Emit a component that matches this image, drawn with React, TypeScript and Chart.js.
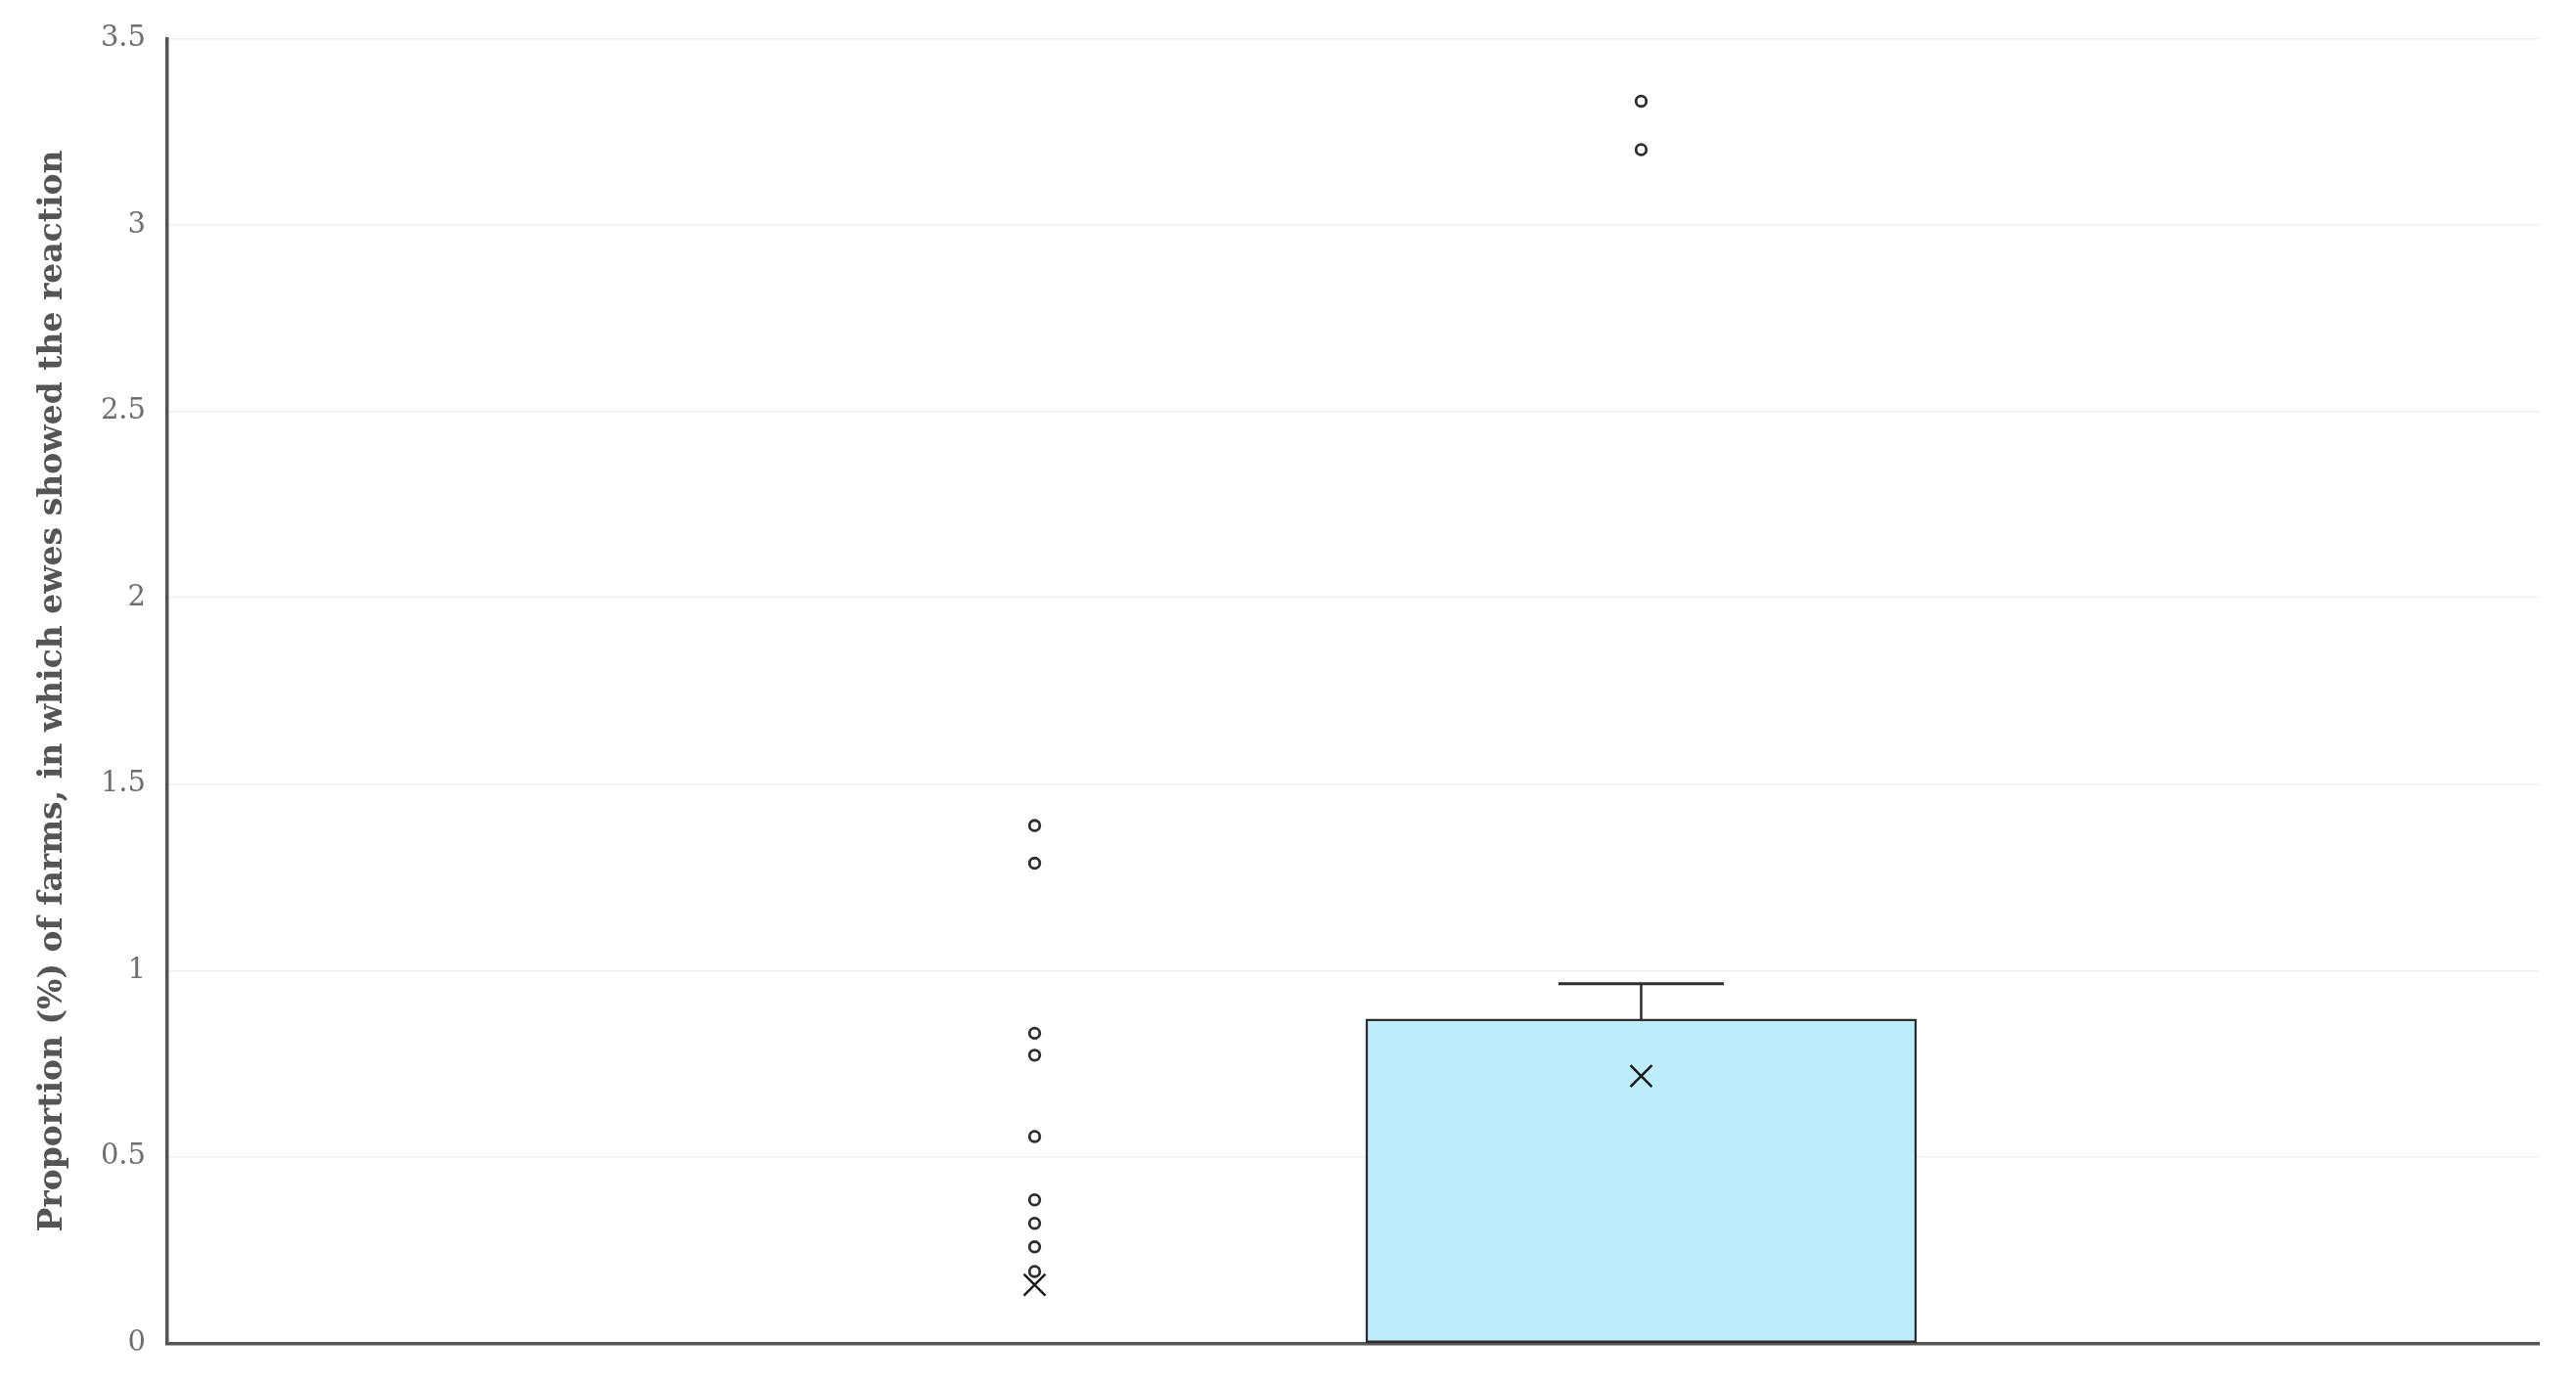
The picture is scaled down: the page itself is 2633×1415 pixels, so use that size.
import React, { useEffect, useRef } from "react";
import { Chart, registerables } from "chart.js";

Chart.register(...registerables);

// ---- data ----
const categories = ["Group 1", "Group 2"];
const q1Values = [0, 0];
const q3Values = [0, 0.87];
const whiskerMax = [0, 0.965];
const meanValues = [0.157, 0.717];
const outliersGroup1 = [1.389, 1.288, 0.832, 0.773, 0.555, 0.385, 0.322, 0.259, 0.193];
const outliersGroup2 = [3.332, 3.202];
const outlierLists = [outliersGroup1, outliersGroup2];
const yTickLabels = ["0", "0.5", "1", "1.5", "2", "2.5", "3", "3.5"];
const yTitle = "Proportion (%) of farms, in which ewes showed the reaction";

const DARK = "#2e2e2e";

export default function App() {
  const canvasRef = useRef<HTMLCanvasElement | null>(null);

  useEffect(() => {
    const prevMargin = document.body.style.margin;
    document.body.style.margin = "0";
    const canvas = canvasRef.current;
    if (!canvas) return;

    const xs = categories.map((_, i) => i + 1);

    const boxData = xs.map((x, i) => ({ x, y: [q1Values[i], q3Values[i]] }));
    const withWhisker = xs.map((_, i) => i).filter((i) => whiskerMax[i] > q3Values[i]);
    const stemDatasets = withWhisker.map((i) => ({
      type: "line" as const,
      data: [
        { x: xs[i], y: q3Values[i] },
        { x: xs[i], y: whiskerMax[i] },
      ],
      borderColor: DARK,
      borderWidth: 2.5,
      pointRadius: 0,
      order: 4,
    }));
    const capData = withWhisker.map((i) => ({ x: xs[i], y: whiskerMax[i] }));
    const meanData = xs.map((x, i) => ({ x, y: meanValues[i] }));
    const outlierData: { x: number; y: number }[] = [];
    outlierLists.forEach((list, i) => list.forEach((v) => outlierData.push({ x: xs[i], y: v })));

    const chart = new Chart(canvas, {
      type: "bar",
      data: {
        datasets: [
          {
            type: "bar",
            data: boxData as any,
            backgroundColor: "#bdedfb",
            borderColor: DARK,
            borderWidth: 2.5,
            borderSkipped: false,
            barThickness: 563,
            order: 5,
          } as any,
          ...stemDatasets,
          {
            type: "line",
            data: capData,
            showLine: false,
            pointStyle: "line",
            pointRadius: 84.5,
            pointBorderWidth: 3,
            pointBorderColor: DARK,
            borderColor: DARK,
            order: 3,
          } as any,
          {
            type: "line",
            data: meanData,
            showLine: false,
            pointStyle: "crossRot",
            pointRadius: 15.5,
            pointBorderWidth: 2.5,
            pointBorderColor: "#1a1a1a",
            borderColor: "#1a1a1a",
            order: 2,
          } as any,
          {
            type: "line",
            data: outlierData,
            showLine: false,
            pointStyle: "circle",
            pointRadius: 5.3,
            pointBorderWidth: 2.8,
            pointBorderColor: DARK,
            pointBackgroundColor: "#ffffff",
            borderColor: DARK,
            order: 1,
          } as any,
        ],
      },
      options: {
        animation: false,
        responsive: true,
        maintainAspectRatio: false,
        layout: { autoPadding: false, padding: { left: 0, top: 35, right: 38, bottom: 41.5 } },
        plugins: { legend: { display: false }, tooltip: { enabled: false }, title: { display: false } },
        scales: {
          x: {
            type: "linear",
            offset: false,
            min: -0.43,
            max: 3.48,
            grid: { display: false, drawTicks: false, offset: false },
            ticks: { display: false },
            border: { display: true, color: "#555555", width: 3.5 },
            afterFit: (s: any) => {
              s.height = 0;
            },
          },
          y: {
            type: "linear",
            min: 0,
            max: 3.5,
            ticks: {
              stepSize: 0.5,
              padding: 22,
              color: "#6e6e6e",
              font: { family: "'DejaVu Serif'", size: 29 },
              callback: (_v: any, i: number) => yTickLabels[i],
            },
            grid: { color: "#efefef", lineWidth: 1.5, drawTicks: false },
            border: { display: true, color: "#555555", width: 3.5 },
            title: {
              display: true,
              text: yTitle,
              color: "#555555",
              font: { family: "'DejaVu Serif'", size: 33, weight: "bold" },
              padding: { top: 35, bottom: 0 },
            },
            afterFit: (s: any) => {
              s.width = 171;
            },
          },
        },
      } as any,
    });

    return () => {
      chart.destroy();
      document.body.style.margin = prevMargin;
    };
  }, []);

  return (
    <div style={{ position: "fixed", left: 0, top: 0, width: 2633, height: 1415, background: "#fff" }}>
      <canvas ref={canvasRef} />
    </div>
  );
}
